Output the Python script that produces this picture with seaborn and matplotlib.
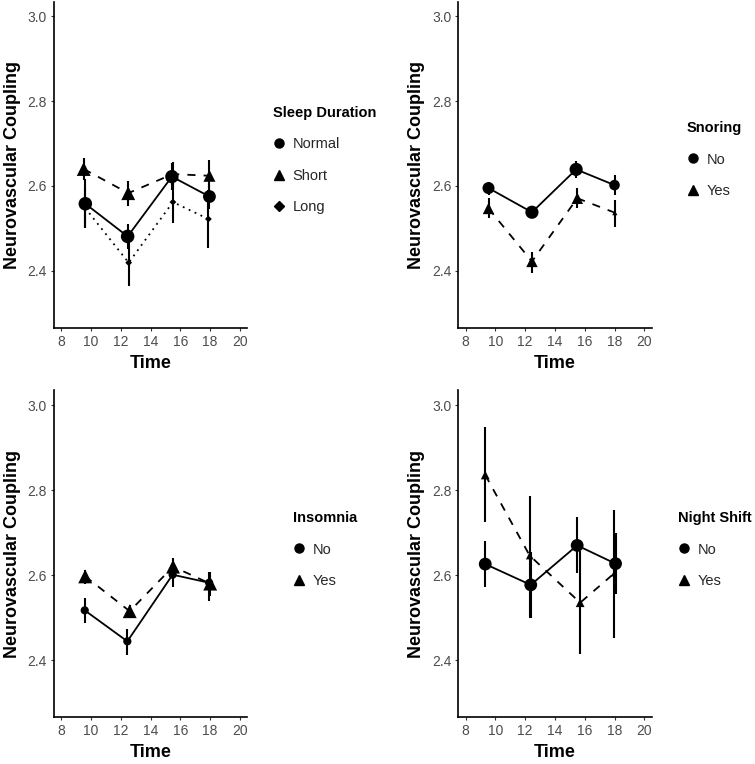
import matplotlib
matplotlib.use("Agg")
import matplotlib.pyplot as plt
from matplotlib.lines import Line2D
import seaborn as sns
import pandas as pd
import numpy as np

sns.set_theme(style="ticks")
plt.rcParams['font.family'] = ['Liberation Sans', 'DejaVu Sans']

# ---------------- data ----------------
# Panel 1: Sleep Duration
sd_groups = ["Normal", "Short", "Long"]
sd_normal_x = [9.61, 12.46, 15.44, 17.97]
sd_normal_y = [2.558, 2.481, 2.622, 2.575]
sd_normal_lo = [2.500, 2.452, 2.590, 2.545]
sd_normal_hi = [2.616, 2.510, 2.655, 2.605]
sd_normal_n = [95, 95, 92, 85]
sd_short_x = [9.50, 12.50, 15.50, 17.97]
sd_short_y = [2.640, 2.583, 2.628, 2.624]
sd_short_lo = [2.614, 2.553, 2.598, 2.588]
sd_short_hi = [2.666, 2.611, 2.657, 2.661]
sd_short_n = [100, 100, 88, 75]
sd_long_x = [9.60, 12.53, 15.51, 17.90]
sd_long_y = [2.548, 2.419, 2.562, 2.522]
sd_long_lo = [2.500, 2.363, 2.512, 2.453]
sd_long_hi = [2.596, 2.475, 2.612, 2.591]
sd_long_n = [12, 12, 12, 12]

# Panel 2: Snoring
sn_groups = ["No", "Yes"]
sn_no_x = [9.53, 12.45, 15.42, 18.00]
sn_no_y = [2.595, 2.538, 2.639, 2.602]
sn_no_lo = [2.579, 2.524, 2.618, 2.579]
sn_no_hi = [2.610, 2.553, 2.659, 2.626]
sn_no_n = [75, 90, 90, 58]
sn_yes_x = [9.53, 12.45, 15.50, 18.02]
sn_yes_y = [2.547, 2.422, 2.571, 2.537]
sn_yes_lo = [2.524, 2.394, 2.548, 2.504]
sn_yes_hi = [2.571, 2.445, 2.594, 2.567]
sn_yes_n = [68, 68, 68, 14]

# Panel 3: Insomnia
in_groups = ["No", "Yes"]
in_no_x = [9.57, 12.44, 15.49, 17.95]
in_no_y = [2.517, 2.444, 2.601, 2.582]
in_no_lo = [2.487, 2.412, 2.572, 2.540]
in_no_hi = [2.546, 2.474, 2.623, 2.608]
in_no_n = [35, 35, 35, 35]
in_yes_x = [9.60, 12.60, 15.52, 18.02]
in_yes_y = [2.597, 2.515, 2.620, 2.580]
in_yes_lo = [2.580, 2.500, 2.600, 2.550]
in_yes_hi = [2.612, 2.530, 2.640, 2.608]
in_yes_n = [100, 100, 100, 100]

# Panel 4: Night Shift
ns_groups = ["No", "Yes"]
ns_no_x = [9.31, 12.37, 15.49, 18.07]
ns_no_y = [2.626, 2.577, 2.670, 2.627]
ns_no_lo = [2.571, 2.500, 2.605, 2.555]
ns_no_hi = [2.681, 2.655, 2.736, 2.700]
ns_no_n = [85, 85, 85, 85]
ns_yes_x = [9.31, 12.30, 15.69, 17.94]
ns_yes_y = [2.836, 2.646, 2.535, 2.603]
ns_yes_lo = [2.726, 2.500, 2.414, 2.452]
ns_yes_hi = [2.950, 2.787, 2.656, 2.754]
ns_yes_n = [40, 30, 40, 14]

x_ticks = [8, 10, 12, 14, 16, 18, 20]
y_ticks = [2.4, 2.6, 2.8, 3.0]
x_label = "Time"
y_label = "Neurovascular Coupling"

panels = [
    dict(title="Sleep Duration", groups=sd_groups,
         series=[(sd_normal_x, sd_normal_y, sd_normal_lo, sd_normal_hi, sd_normal_n),
                 (sd_short_x, sd_short_y, sd_short_lo, sd_short_hi, sd_short_n),
                 (sd_long_x, sd_long_y, sd_long_lo, sd_long_hi, sd_long_n)]),
    dict(title="Snoring", groups=sn_groups,
         series=[(sn_no_x, sn_no_y, sn_no_lo, sn_no_hi, sn_no_n),
                 (sn_yes_x, sn_yes_y, sn_yes_lo, sn_yes_hi, sn_yes_n)]),
    dict(title="Insomnia", groups=in_groups,
         series=[(in_no_x, in_no_y, in_no_lo, in_no_hi, in_no_n),
                 (in_yes_x, in_yes_y, in_yes_lo, in_yes_hi, in_yes_n)]),
    dict(title="Night Shift", groups=ns_groups,
         series=[(ns_no_x, ns_no_y, ns_no_lo, ns_no_hi, ns_no_n),
                 (ns_yes_x, ns_yes_y, ns_yes_lo, ns_yes_hi, ns_yes_n)]),
]

marker_list = ["o", "^", "D"]
dash_list = ["", (4.5, 4.5), (1, 2.6)]

W, H = 755, 764
fig = plt.figure(figsize=(W / 100, H / 100), dpi=100)

# axes boxes in pixels: left, top, right, bottom
boxes = [(54, 1.5, 247, 328), (458.3, 1.5, 651.7, 328),
         (54, 390.5, 247, 717.3), (458.3, 390.5, 651.7, 717.3)]
legend_pos = [(273, 106), (687, 121), (293, 511), (678, 511)]

for p, box, lp in zip(panels, boxes, legend_pos):
    l, t, r, b = box
    ax = fig.add_axes([l / W, 1 - b / H, (r - l) / W, (b - t) / H])
    rows = []
    for g, (xs, ys, lo, hi, n) in zip(p["groups"], p["series"]):
        for i in range(len(xs)):
            rows.append(dict(group=g, time=xs[i], value=ys[i], lo=lo[i], hi=hi[i], n=n[i]))
    df = pd.DataFrame(rows)
    groups = p["groups"]
    mk = {g: marker_list[i] for i, g in enumerate(groups)}
    ds = {g: dash_list[i] for i, g in enumerate(groups)}

    ax.vlines(df["time"], df["lo"], df["hi"], color="black", linewidth=1.5, zorder=2)
    sns.lineplot(data=df, x="time", y="value", style="group", style_order=groups,
                 dashes=ds, markers=False, color="black", linewidth=1.3,
                 estimator=None, sort=False, legend=False, ax=ax, zorder=3)
    sns.scatterplot(data=df, x="time", y="value", style="group", style_order=groups,
                    markers=mk, size="n", sizes=(12, 100), size_norm=(12, 100),
                    color="black", edgecolor="black", linewidth=0, legend=False,
                    ax=ax, zorder=4)

    ax.set_xlim(7.5, 20.5)
    ax.set_ylim(2.265, 3.035)
    ax.set_xticks(x_ticks)
    ax.set_yticks(y_ticks)
    ax.set_xticklabels([str(v) for v in x_ticks])
    ax.set_yticklabels([f"{v:.1f}" for v in y_ticks])
    ax.set_xlabel(x_label, fontsize=13, fontweight="bold", color="black", labelpad=4)
    ax.set_ylabel(y_label, fontsize=13, fontweight="bold", color="black", labelpad=5)
    ax.tick_params(axis="both", length=2.5, width=0.8, color="#333333",
                   labelsize=10, labelcolor="#4D4D4D", pad=2.5)
    for s in ["top", "right"]:
        ax.spines[s].set_visible(False)
    for s in ["left", "bottom"]:
        ax.spines[s].set_linewidth(1.2)
        ax.spines[s].set_color("black")

    handles = [Line2D([], [], linestyle="none", marker=mk[g], color="black",
                      markersize=(5 if mk[g] == "D" else 6.5)) for g in groups]
    leg = ax.legend(handles, groups, title=p["title"], loc="upper left",
                    bbox_to_anchor=(lp[0] / W, 1 - lp[1] / H),
                    bbox_transform=fig.transFigure, frameon=False,
                    fontsize=10.5, title_fontproperties={"weight": "bold", "size": 10.5},
                    borderpad=0, borderaxespad=0, labelspacing=1.2,
                    handlelength=0.8, handletextpad=0.55, alignment="left")
    leg.get_title().set_color("black")

fig.savefig("out.png", dpi=100)
